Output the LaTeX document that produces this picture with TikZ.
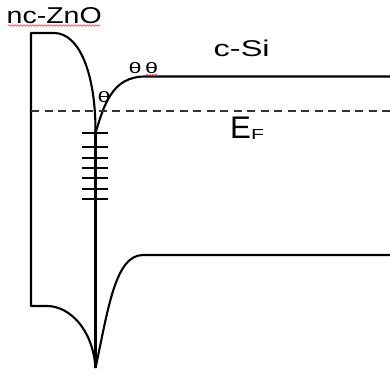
\documentclass[tikz,border=0pt]{standalone}
\usepackage{fontspec}
\setmainfont{Liberation Sans}
\usetikzlibrary{decorations.pathmorphing}
\tikzset{
  band/.style={line width=2.1pt, line join=round},
  fermi/.style={line width=2.1pt, color=black!80, dash pattern=on 8pt off 5.5pt},
  tick/.style={line width=2.1pt},
  lbl/.style={inner sep=0pt, anchor=base west},
  elec/.style={inner sep=0pt, anchor=center},
  squig/.style={red!80, line width=0.6pt, decorate, decoration={snake, amplitude=0.7pt, segment length=3pt}}
}
\begin{document}
\begin{tikzpicture}[x=1pt, y=-1pt]
\useasboundingbox (0,0) rectangle (390,376);
% named points
\coordinate (zt0) at (31,33);
\coordinate (zt1) at (54,33);
\coordinate (zb0) at (31,306);
\coordinate (zb1) at (47,306);
\coordinate (ifc) at (95.5,131);
\coordinate (tip) at (95.5,368);
\coordinate (cs)  at (95.5,133);
\coordinate (cbs) at (145,76.5);
\coordinate (cbe) at (390,76.5);
\coordinate (vbs) at (143,255);
\coordinate (vbe) at (390,255);
\coordinate (ef0) at (31,111);
\coordinate (ef1) at (390,111);
% nc-ZnO band outline
\draw[band] (ifc) .. controls (95.5,75) and (80,33) .. (zt1) -- (zt0) -- (zb0) -- (zb1)
  .. controls (70,306) and (93,330) .. (tip);
% interface line
\draw[band] (ifc) -- (tip);
% c-Si valence band
\draw[band] (tip) .. controls (108,310) and (115,255) .. (vbs) -- (vbe);
% c-Si conduction band
\draw[band] (cs) .. controls (104,105) and (112,76.5) .. (cbs) -- (cbe);
% Fermi level
\draw[fermi] (ef0) -- (ef1);
% interface states
\foreach \yy in {133,147,158,168,178,189,199}{
  \draw[tick] (82,\yy) -- (108,\yy);
}
% electrons
\node[elec] (e1) at (104,97) {\resizebox{13pt}{11pt}{θ}};
\node[elec] (e2) at (135,68) {\resizebox{13pt}{11pt}{θ}};
\node[elec] (e3) at (151.5,68) {\resizebox{13pt}{11pt}{θ}};
% labels
\node[lbl] (zno) at (6.5,23) {\resizebox{95pt}{16pt}{nc-ZnO}};
\node[lbl] (csi) at (213.5,56.5) {\resizebox{56pt}{16.5pt}{c-Si}};
\node[lbl] (ef) at (230,138.5) {\resizebox{!}{21.5pt}{E}\raisebox{-0.5pt}{\resizebox{13pt}{10pt}{F}}};
% spell-check squiggles
\coordinate (sq0) at (8,25.5);
\coordinate (sq1) at (100,25.5);
\coordinate (sq2) at (146,75);
\coordinate (sq3) at (157,75);
\draw[squig] (sq0) -- (sq1);
\draw[squig] (sq2) -- (sq3);
\end{tikzpicture}
\end{document}
